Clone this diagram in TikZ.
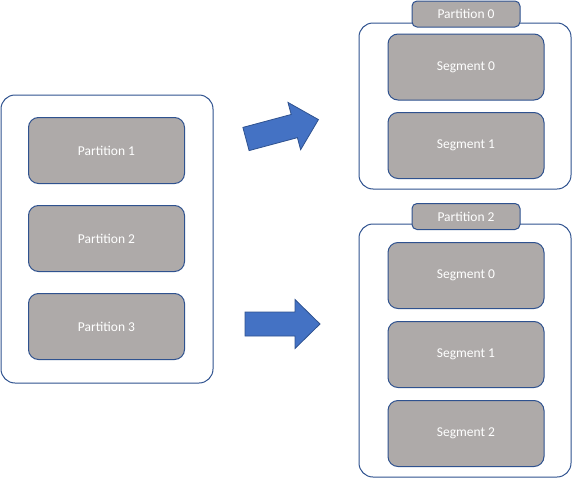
\documentclass[tikz,border=0pt]{standalone}
\usepackage{fontspec}
\setmainfont{Carlito}
\usepackage{xcolor}
\usepackage{tikz}
\usetikzlibrary{calc}
\definecolor{boxedge}{RGB}{47,82,143}
\definecolor{boxgray}{RGB}{174,170,169}
\definecolor{arrowblue}{RGB}{68,114,196}

\begin{document}
\begin{tikzpicture}[x=1pt,y=-1pt,
    every node/.style={font=\fontsize{13.5}{15}\selectfont,text=white},
    holder/.style={draw=boxedge,line width=1pt,fill=white,rounded corners=14pt,inner sep=0pt},
    piece/.style={draw=boxedge,line width=1pt,fill=boxgray,rounded corners=10pt,
      minimum width=156pt,minimum height=66pt,inner sep=0pt},
    tab/.style={draw=boxedge,line width=1pt,fill=boxgray,rounded corners=5pt,
      minimum width=108pt,minimum height=26pt,inner sep=0pt},
    blockarrow/.style={draw=boxedge,line width=0.8pt,fill=arrowblue}]
    \useasboundingbox (0,0) rectangle (573,479);

    % Source topic
    \node[holder,minimum width=212pt,minimum height=288pt] (src) at (107,239) {};
    \node[piece] (p1) at (106.5,150.5) {Partition 1};
    \node[piece] (p2) at (106.5,238.5) {Partition 2};
    \node[piece] (p3) at (106.5,326.5) {Partition 3};

    % Partition 0
    \node[holder,minimum width=212pt,minimum height=166pt] (dst0) at (465,106) {};
    \node[tab] (tab0) at (466,14) {Partition 0};
    \node[piece] (s00) at (466,67) {Segment 0};
    \node[piece] (s01) at (466,145.5) {Segment 1};

    % Partition 2
    \node[holder,minimum width=212pt,minimum height=253pt] (dst2) at (465,350.5) {};
    \node[tab] (tab2) at (466,216.5) {Partition 2};
    \node[piece] (s20) at (466,275.5) {Segment 0};
    \node[piece] (s21) at (466,354.5) {Segment 1};
    \node[piece] (s22) at (466,433.5) {Segment 2};

    % Block arrows
    \begin{scope}[shift={(246,139)},rotate=15]
      \draw[blockarrow] (0,-12) -- (50,-12) -- (50,-24.5) -- (75,0)
        -- (50,24.5) -- (50,12) -- (0,12) -- cycle;
    \end{scope}
    \begin{scope}[shift={(245,324)}]
      \draw[blockarrow] (0,-12) -- (50,-12) -- (50,-24.5) -- (75,0)
        -- (50,24.5) -- (50,12) -- (0,12) -- cycle;
    \end{scope}
  \end{tikzpicture}
\end{document}
